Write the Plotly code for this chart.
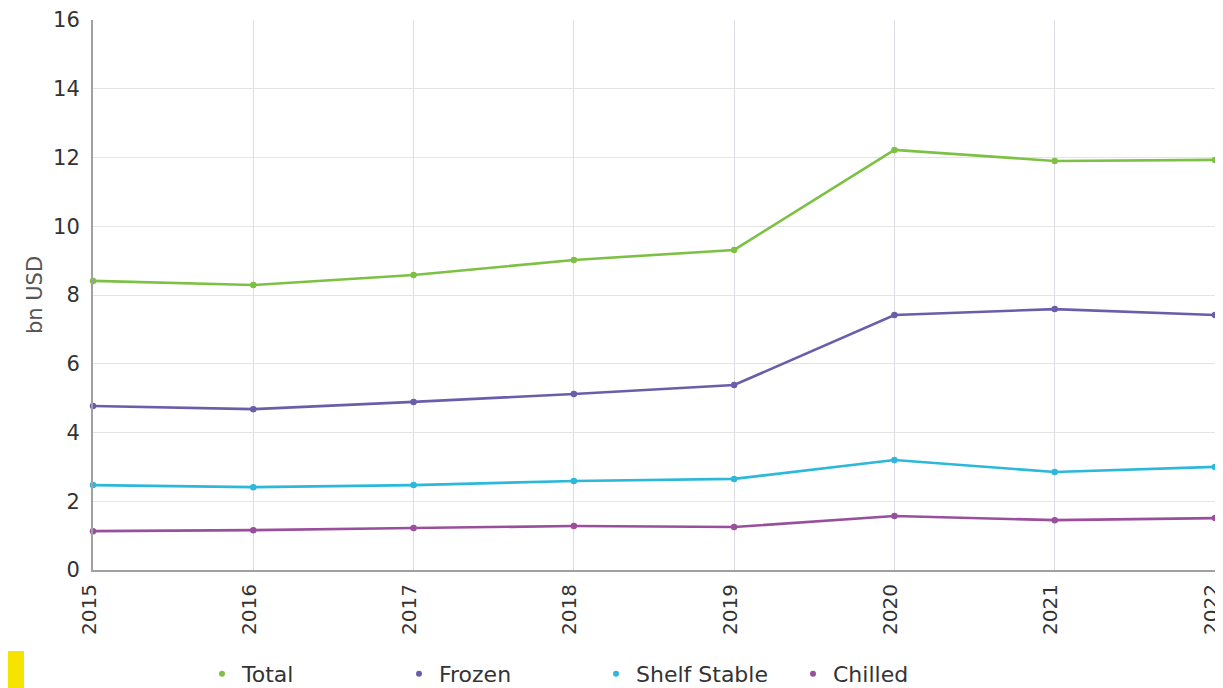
import plotly.graph_objects as go

# ---------------------------------------------------------------------------
# Data (bn USD)
# ---------------------------------------------------------------------------
years = [2015, 2016, 2017, 2018, 2019, 2020, 2021, 2022]

total = [8.41, 8.29, 8.58, 9.02, 9.31, 12.22, 11.90, 11.93]
frozen = [4.77, 4.68, 4.89, 5.12, 5.38, 7.42, 7.59, 7.42]
shelf_stable = [2.47, 2.41, 2.47, 2.59, 2.65, 3.20, 2.85, 3.00]
chilled = [1.13, 1.16, 1.22, 1.28, 1.25, 1.57, 1.45, 1.51]

series_names = ["Total", "Frozen", "Shelf Stable", "Chilled"]
series_values = [total, frozen, shelf_stable, chilled]
series_colors = ["#7cc144", "#6a5eaa", "#2bb8da", "#9a4f9c"]

y_ticks = [0, 2, 4, 6, 8, 10, 12, 14, 16]

FONT = "DejaVu Sans"

# the page body has an 8px margin, so the figure is sized to fit inside it
W, H = 1215, 680
M_L, M_R, M_T, M_B = 85, 8, 12, 118
PLOT_H = H - M_T - M_B
PLOT_W = W - M_L - M_R

fig = go.Figure()

for name, vals, color in zip(series_names, series_values, series_colors):
    # the actual line
    fig.add_trace(go.Scatter(
        x=years, y=vals,
        mode="lines+markers",
        line=dict(color=color, width=2.6),
        marker=dict(size=6.5, color=color),
        cliponaxis=False,
        showlegend=False,
        name=name,
    ))
    # legend entry: dot only
    fig.add_trace(go.Scatter(
        x=[None], y=[None],
        mode="markers",
        marker=dict(size=6, color=color),
        name=name,
        showlegend=True,
    ))

fig.update_layout(
    width=W,
    height=H,
    margin=dict(l=M_L, r=M_R, t=M_T, b=M_B, autoexpand=False),
    plot_bgcolor="white",
    paper_bgcolor="white",
    font=dict(family=FONT, color="#333333"),
    xaxis=dict(
        range=[2015, 2022],
        tickmode="array",
        tickvals=years,
        ticktext=[str(y) for y in years],
        tickangle=-90,
        tickfont=dict(size=20, color="#333333"),
        ticklabeloverflow="allow",
        ticklabelshift=-4,
        showgrid=True,
        gridcolor="#dcdce2",
        gridwidth=1,
        showline=True,
        linecolor="#a0a0a0",
        linewidth=2,
        zeroline=False,
        ticks="",
        ticklabelstandoff=4,
        automargin=False,
    ),
    yaxis=dict(
        range=[0, 16],
        tickmode="array",
        tickvals=y_ticks,
        tickfont=dict(size=21, color="#333333"),
        ticklabeloverflow="allow",
        showgrid=True,
        gridcolor="#e4e4e4",
        gridwidth=1,
        showline=True,
        linecolor="#a0a0a0",
        linewidth=2,
        zeroline=False,
        ticks="",
        ticklabelstandoff=7,
        automargin=False,
        title=dict(
            text="bn USD",
            font=dict(size=21, color="#555555"),
            standoff=5,
        ),
    ),
    legend=dict(
        orientation="h",
        x=(194 - M_L) / PLOT_W,
        xanchor="left",
        y=-104 / PLOT_H,
        yanchor="middle",
        font=dict(size=22, color="#333333"),
        entrywidth=152,
        entrywidthmode="pixels",
        itemwidth=30,
        bgcolor="rgba(0,0,0,0)",
    ),
    shapes=[
        # small yellow tag in the lower-left corner
        dict(
            type="rect",
            xref="paper", yref="paper",
            x0=-M_L / PLOT_W, x1=(16 - M_L) / PLOT_W,
            y0=-M_B / PLOT_H, y1=-(643 - (H - M_B)) / PLOT_H,
            fillcolor="#f6e400",
            line=dict(width=0),
            layer="above",
        )
    ],
)

fig.write_html("out.html")
